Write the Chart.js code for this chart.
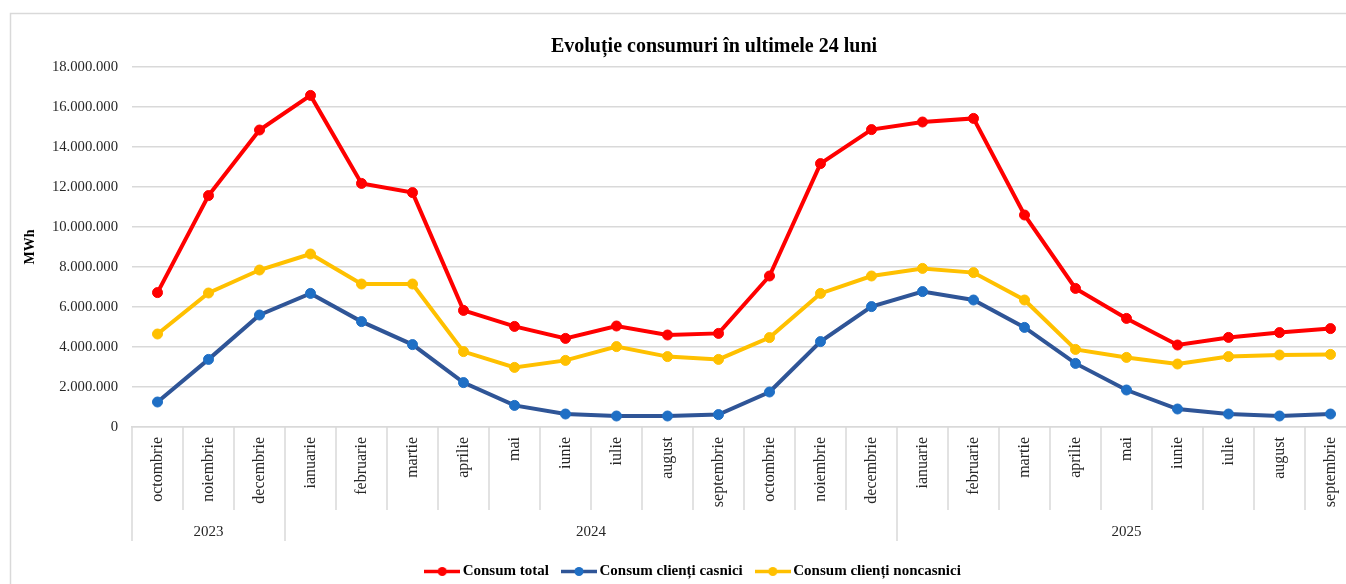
<!DOCTYPE html>
<html lang="ro">
<head>
<meta charset="utf-8">
<title>Evoluție consumuri în ultimele 24 luni</title>
<script src="https://cdn.jsdelivr.net/npm/chart.js@4.4.1/dist/chart.umd.min.js"></script>
<style>
    html, body {
        margin: 0;
        padding: 0;
        background: #ffffff;
        overflow: hidden;
    }
    #chartConsum {
        display: block;
    }
</style>
</head>
<body>
<canvas id="chartConsum" width="1428" height="589"></canvas>
<script>
    // luni (axa X) si anii care le grupeaza
    const months = ['octombrie', 'noiembrie', 'decembrie', 'ianuarie', 'februarie', 'martie', 'aprilie', 'mai',
        'iunie', 'iulie', 'august', 'septembrie', 'octombrie', 'noiembrie', 'decembrie', 'ianuarie', 'februarie',
        'martie', 'aprilie', 'mai', 'iunie', 'iulie', 'august', 'septembrie'];
    const years = ['2023', '2024', '2025'];
    const monthsPerYear = [3, 12, 9];

    // valori in MWh
    const consumTotal = [6720000, 11570000, 14850000, 16580000, 12180000, 11720000, 5830000, 5030000, 4430000,
        5050000, 4600000, 4680000, 7550000, 13170000, 14870000, 15250000, 15430000, 10600000, 6930000, 5430000,
        4100000, 4480000, 4720000, 4920000];
    const consumCasnici = [1250000, 3380000, 5600000, 6680000, 5270000, 4120000, 2220000, 1080000, 650000,
        550000, 550000, 620000, 1750000, 4270000, 6020000, 6770000, 6350000, 4980000, 3180000, 1850000,
        900000, 650000, 550000, 650000];
    const consumNoncasnici = [4650000, 6700000, 7850000, 8650000, 7150000, 7150000, 3770000, 2980000, 3330000,
        4020000, 3520000, 3380000, 4470000, 6680000, 7550000, 7930000, 7720000, 6350000, 3880000, 3480000,
        3150000, 3520000, 3600000, 3630000];

    const yMax = 18000000;
    const yStep = 2000000;

    const serif = "'Liberation Serif', 'Times New Roman', serif";
    const gridColor = '#d9d9d9';
    const textColor = '#262626';

    function formatMWh(value) {
        return String(value).replace(/\B(?=(\d{3})+(?!\d))/g, '.');
    }

    // mic desen pentru legenda: linie + punct
    function legendIcon(lineColor, dotColor) {
        const c = document.createElement('canvas');
        c.width = 36;
        c.height = 11;
        const g = c.getContext('2d');
        g.strokeStyle = lineColor;
        g.lineWidth = 3.5;
        g.beginPath();
        g.moveTo(0, 5.5);
        g.lineTo(36, 5.5);
        g.stroke();
        g.fillStyle = dotColor;
        g.beginPath();
        g.arc(18, 5.5, 4.5, 0, Math.PI * 2);
        g.fill();
        return c;
    }

    const icons = [
        legendIcon('#ff0000', '#ff0000'),
        legendIcon('#2f5597', '#1f6fc5'),
        legendIcon('#ffc000', '#ffc000')
    ];

    const frame = {
        id: 'frame',
        beforeDraw(chart) {
            const ctx = chart.ctx;
            ctx.save();
            ctx.fillStyle = '#ffffff';
            ctx.fillRect(0, 0, chart.width, chart.height);
            ctx.strokeStyle = gridColor;
            ctx.lineWidth = 1.5;
            ctx.strokeRect(10.5, 13.5, 3000, 3000);
            ctx.restore();
        },
        afterLayout(chart) {
            // titlul si legenda centrate ca in Excel
            chart.titleBlock.left = 0;
            chart.titleBlock.right = 1428;
            chart.titleBlock.width = 1428;
            chart.legend.left = 0;
            chart.legend.right = 1390;
            chart.legend.width = 1390;
        }
    };

    // separatoarele dintre luni si randul cu anii
    const yearAxis = {
        id: 'yearAxis',
        afterDraw(chart) {
            const ctx = chart.ctx;
            const x = chart.scales.x;
            const step = x.width / months.length;
            const top = x.top;
            ctx.save();
            ctx.strokeStyle = gridColor;
            ctx.lineWidth = 1.5;

            const groupEdges = [0];
            monthsPerYear.forEach((n, i) => groupEdges.push(groupEdges[i] + n));

            for (let k = 0; k <= months.length; k++) {
                const px = x.left + k * step;
                const isGroup = groupEdges.indexOf(k) !== -1;
                ctx.beginPath();
                ctx.moveTo(px, top);
                ctx.lineTo(px, isGroup ? top + 114 : top + 83);
                ctx.stroke();
            }

            ctx.fillStyle = textColor;
            ctx.font = '15px ' + serif;
            ctx.textAlign = 'center';
            ctx.textBaseline = 'middle';
            years.forEach((year, i) => {
                const from = x.left + groupEdges[i] * step;
                const to = x.left + groupEdges[i + 1] * step;
                ctx.fillText(year, (from + to) / 2, top + 105);
            });
            ctx.restore();
        }
    };

    let ctx = document.getElementById('chartConsum').getContext('2d');
    let chartConsum = new Chart(ctx, {
        type: 'line',
        data: {
            labels: months,
            datasets: [
                {
                    label: 'Consum total',
                    data: consumTotal,
                    borderColor: '#ff0000',
                    backgroundColor: '#ff0000',
                    pointBackgroundColor: '#ff0000',
                    pointBorderColor: '#ff0000'
                },
                {
                    label: 'Consum clienți casnici',
                    data: consumCasnici,
                    borderColor: '#2f5597',
                    backgroundColor: '#2f5597',
                    pointBackgroundColor: '#1f6fc5',
                    pointBorderColor: '#1f6fc5'
                },
                {
                    label: 'Consum clienți noncasnici',
                    data: consumNoncasnici,
                    borderColor: '#ffc000',
                    backgroundColor: '#ffc000',
                    pointBackgroundColor: '#ffc000',
                    pointBorderColor: '#ffc000'
                }
            ]
        },
        options: {
            responsive: false,
            animation: false,
            devicePixelRatio: 1,
            layout: {
                padding: {top: 0, right: 72, bottom: 0, left: 0}
            },
            elements: {
                line: {borderWidth: 4, tension: 0},
                point: {radius: 5, borderWidth: 1}
            },
            scales: {
                x: {
                    offset: true,
                    grid: {display: false, drawTicks: false},
                    border: {display: true, color: gridColor, width: 1.5},
                    ticks: {
                        autoSkip: false,
                        minRotation: 90,
                        maxRotation: 90,
                        padding: 10,
                        color: textColor,
                        font: {family: serif, size: 16}
                    },
                    afterFit: (scale) => {
                        scale.height = 120;
                    }
                },
                y: {
                    min: 0,
                    max: yMax,
                    border: {display: false},
                    grid: {color: gridColor, lineWidth: 1.5, drawTicks: false},
                    ticks: {
                        stepSize: yStep,
                        padding: 14,
                        color: textColor,
                        font: {family: serif, size: 14.7},
                        callback: (value) => formatMWh(value)
                    },
                    title: {
                        display: true,
                        text: 'MWh',
                        color: '#000000',
                        font: {family: serif, size: 14, weight: 'bold'},
                        padding: {top: 21.6, bottom: 0}
                    },
                    afterFit: (scale) => {
                        scale.width = 132;
                    }
                }
            },
            plugins: {
                title: {
                    display: true,
                    text: 'Evoluție consumuri în ultimele 24 luni',
                    color: '#000000',
                    font: {family: serif, size: 20, weight: 'bold'},
                    padding: {top: 34.5, bottom: 8.5}
                },
                legend: {
                    display: true,
                    position: 'bottom',
                    labels: {
                        usePointStyle: true,
                        pointStyleWidth: 26,
                        padding: 17,
                        color: '#000000',
                        font: {family: serif, size: 15, weight: 'bold'},
                        generateLabels: (chart) => {
                            const items = Chart.defaults.plugins.legend.labels.generateLabels(chart);
                            items.forEach((item, i) => {
                                item.pointStyle = icons[i];
                            });
                            return items;
                        }
                    }
                },
                tooltip: {enabled: false}
            }
        },
        plugins: [frame, yearAxis]
    });
</script>
</body>
</html>
